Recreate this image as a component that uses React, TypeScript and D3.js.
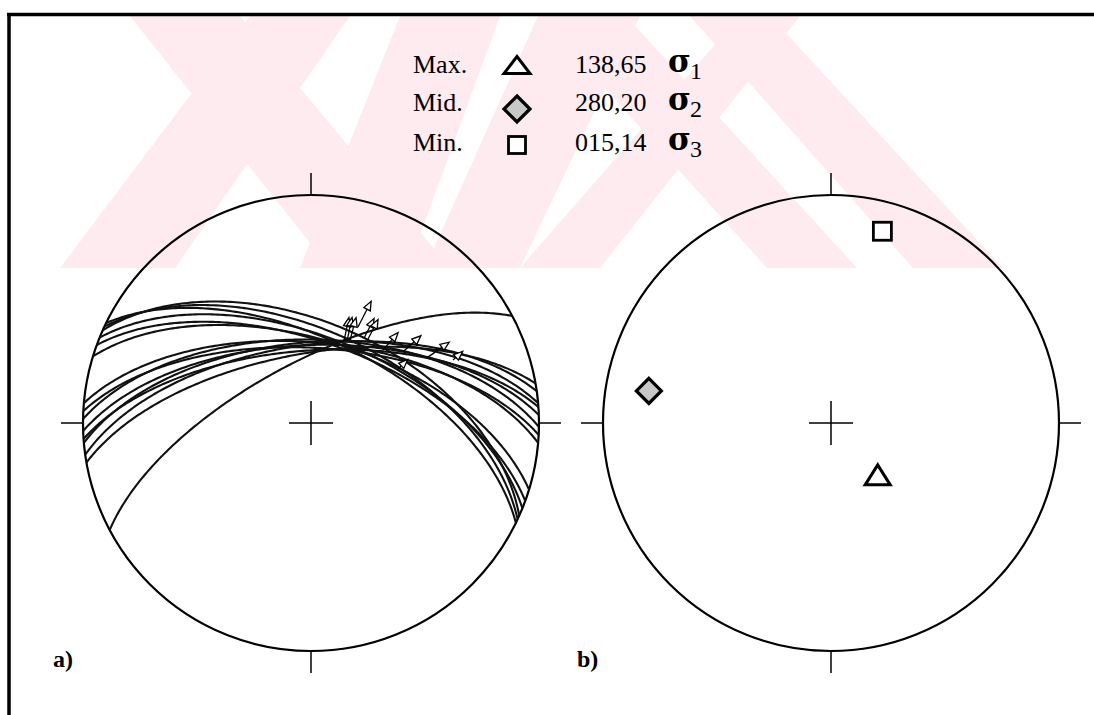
import React from 'react';
import * as d3 from 'd3';

const W = 1094;
const H = 715;

// ---- Legend ----
const legendLabels = ['Max.', 'Mid.', 'Min.'];
const legendValues = ['138,65', '280,20', '015,14'];
const legendSub = ['1', '2', '3'];
const legendShapes = ['triangle', 'diamond', 'square'];

// ---- Principal stress axes (trend, plunge) ----
const axisTrend = [138, 280, 15];
const axisPlunge = [65, 20, 14];

// ---- Fault planes (dip direction, dip) ----
const faultDipDir = [26, 25, 22, 20, 17, 24, 5, 3, 1, 358, 356, 355, 352, 350, 332];
const faultDip = [60, 57, 59, 61, 60, 54, 61, 63, 60, 62, 64, 61, 62, 65, 68];

// ---- Slip lineations (trend, plunge) + arrow direction/length ----
const slipTrend = [21.9, 23.7, 25.2, 26.1, 32, 34.2, 44.6, 52.3, 60.6, 66.1, 58.4];
const slipPlunge = [58.2, 57.7, 56.9, 51.3, 53.8, 53.3, 52.9, 47.7, 40.8, 32.4, 53.5];
const slipAzimuth = [12, 12, 15, 27, 27, 27, 41, 48, 55, 48, 45];
const slipLength = [24, 24, 23, 29, 22, 22, 23, 24, 26, 13, 15];

// ---- Watermark bands: [topX0, topX1, bottomX0, bottomX1] ----
const bandTop = 16;
const bandBottom = 268;
const watermarkBands = [
  [250, 350, 60, 175],
  [130, 240, 330, 450],
  [400, 500, 300, 408],
  [538, 640, 425, 520],
  [540, 626, 767, 857],
  [690, 770, 913, 1003],
  [740, 800, 520, 600],
];

const R = 228;
const netCenters = [
  [311, 423],
  [831, 423],
];

function project(trend: number, plunge: number): [number, number] {
  const t = (trend * Math.PI) / 180;
  const theta = ((90 - plunge) * Math.PI) / 180;
  const r = Math.SQRT2 * Math.sin(theta / 2);
  return [r * Math.sin(t), r * Math.cos(t)];
}

function greatCircle(dd: number, dip: number): [number, number][] {
  const rad = Math.PI / 180;
  const s = [Math.cos((dd - 90) * rad), Math.sin((dd - 90) * rad), 0];
  const d = [
    Math.cos(dip * rad) * Math.cos(dd * rad),
    Math.cos(dip * rad) * Math.sin(dd * rad),
    Math.sin(dip * rad),
  ];
  const pts: [number, number][] = [];
  for (let i = 0; i <= 180; i++) {
    const t = i * rad;
    const v = [0, 1, 2].map((k) => Math.cos(t) * s[k] + Math.sin(t) * d[k]);
    const pl = Math.asin(Math.max(-1, Math.min(1, v[2]))) / rad;
    const tr = Math.atan2(v[1], v[0]) / rad;
    pts.push(project(tr, pl));
  }
  return pts;
}

function Net({ cx, cy, children }: { cx: number; cy: number; children?: any }) {
  const tick = 22;
  const cross = 22;
  return (
    <g>
      <circle cx={cx} cy={cy} r={R} fill="none" stroke="#000" strokeWidth={2.2} />
      <line x1={cx} y1={cy - R} x2={cx} y2={cy - R - tick} stroke="#000" strokeWidth={1.5} />
      <line x1={cx} y1={cy + R} x2={cx} y2={cy + R + tick} stroke="#000" strokeWidth={1.5} />
      <line x1={cx - R} y1={cy} x2={cx - R - tick} y2={cy} stroke="#000" strokeWidth={1.5} />
      <line x1={cx + R} y1={cy} x2={cx + R + tick} y2={cy} stroke="#000" strokeWidth={1.5} />
      <line x1={cx - cross} y1={cy} x2={cx + cross} y2={cy} stroke="#000" strokeWidth={1.5} />
      <line x1={cx} y1={cy - cross} x2={cx} y2={cy + cross} stroke="#000" strokeWidth={1.5} />
      {children}
    </g>
  );
}

function Symbol({ shape, x, y, legend = false }: { shape: string; x: number; y: number; legend?: boolean }) {
  if (shape === 'triangle') {
    const w = legend ? 13 : 12.5;
    const h = legend ? 8.5 : 10;
    return (
      <polygon
        points={`${x - w},${y + h} ${x + w},${y + h} ${x},${y - h}`}
        fill="#fff"
        stroke="#000"
        strokeWidth={3}
        strokeLinejoin="miter"
      />
    );
  }
  if (shape === 'diamond') {
    const r = legend ? 13 : 12.5;
    return (
      <polygon
        points={`${x},${y - r} ${x + r},${y} ${x},${y + r} ${x - r},${y}`}
        fill="#c8c8c8"
        stroke="#000"
        strokeWidth={3.2}
      />
    );
  }
  const a = legend ? 8.5 : 9;
  return <rect x={x - a} y={y - a} width={2 * a} height={2 * a} fill="#fff" stroke="#000" strokeWidth={2.8} />;
}

export default function App() {
  const [lcx, lcy] = netCenters[0];
  const [rcx, rcy] = netCenters[1];
  const lx = d3.scaleLinear().domain([-1, 1]).range([lcx - R, lcx + R]);
  const ly = d3.scaleLinear().domain([-1, 1]).range([lcy + R, lcy - R]);
  const rx = d3.scaleLinear().domain([-1, 1]).range([rcx - R, rcx + R]);
  const ry = d3.scaleLinear().domain([-1, 1]).range([rcy + R, rcy - R]);

  const line = d3
    .line<[number, number]>()
    .x((p) => lx(p[0]))
    .y((p) => ly(p[1]));

  const serif = '"Liberation Serif", "Times New Roman", serif';
  const rowBase = [73, 111, 151];
  const symY = [65, 109, 145];

  return (
    <svg
      width={W}
      height={H}
      viewBox={`0 0 ${W} ${H}`}
      style={{ position: 'absolute', left: 0, top: 0, background: '#fff' }}
    >
      <rect x={0} y={0} width={W} height={H} fill="#fff" />
      <defs>
        <clipPath id="wm">
          <rect x={10} y={bandTop} width={W} height={bandBottom - bandTop} />
        </clipPath>
      </defs>
      <g clipPath="url(#wm)">
        {watermarkBands.map((b, i) => (
          <polygon
            key={i}
            points={`${b[0]},${bandTop} ${b[1]},${bandTop} ${b[3]},${bandBottom} ${b[2]},${bandBottom}`}
            fill="#fdebef"
          />
        ))}
      </g>

      {/* frame */}
      <line x1={7} y1={14.5} x2={W} y2={14.5} stroke="#000" strokeWidth={3.5} />
      <line x1={9} y1={13} x2={9} y2={H} stroke="#000" strokeWidth={3.5} />

      {/* legend */}
      {legendLabels.map((lab, i) => (
        <g key={lab}>
          <text x={413} y={rowBase[i]} fontFamily={serif} fontSize={26} fill="#000">
            {lab}
          </text>
          <Symbol shape={legendShapes[i]} x={517} y={symY[i]} legend />
          <text x={575} y={rowBase[i]} fontFamily={serif} fontSize={26} fill="#000">
            {legendValues[i]}
          </text>
          <text x={668} y={rowBase[i] - 1} fontFamily='"DejaVu Serif", serif' fontSize={31} fontWeight="bold" fill="#000">
            σ
          </text>
          <text x={690} y={rowBase[i] + 6} fontFamily={serif} fontSize={24} fill="#000">
            {legendSub[i]}
          </text>
        </g>
      ))}

      {/* left net: fault planes and slip lineations */}
      <Net cx={lcx} cy={lcy}>
        {faultDipDir.map((dd, i) => (
          <path key={i} d={line(greatCircle(dd, faultDip[i])) || ''} fill="none" stroke="#111" strokeWidth={2.1} />
        ))}
        {slipTrend.map((tr, i) => {
          const p = project(tr, slipPlunge[i]);
          const x0 = lx(p[0]);
          const y0 = ly(p[1]);
          const a = (slipAzimuth[i] * Math.PI) / 180;
          const ux = Math.sin(a);
          const uy = -Math.cos(a);
          const L = slipLength[i];
          const x1 = x0 + ux * L;
          const y1 = y0 + uy * L;
          const hl = 9;
          const hw = 3.6;
          const bx = x1 - ux * hl;
          const by = y1 - uy * hl;
          return (
            <g key={`s${i}`}>
              <line x1={x0} y1={y0} x2={bx} y2={by} stroke="#000" strokeWidth={1.3} />
              <polygon
                points={`${x1},${y1} ${bx - uy * hw},${by + ux * hw} ${bx + uy * hw},${by - ux * hw}`}
                fill="#fff"
                stroke="#000"
                strokeWidth={1.3}
              />
            </g>
          );
        })}
      </Net>

      {/* right net: principal stress axes */}
      <Net cx={rcx} cy={rcy}>
        {axisTrend.map((tr, i) => {
          const p = project(tr, axisPlunge[i]);
          return <Symbol key={i} shape={legendShapes[i]} x={rx(p[0])} y={ry(p[1])} />;
        })}
      </Net>

      <text x={53} y={667} fontFamily={serif} fontSize={24} fontWeight="bold" fill="#000">
        a)
      </text>
      <text x={577} y={667} fontFamily={serif} fontSize={24} fontWeight="bold" fill="#000">
        b)
      </text>
    </svg>
  );
}
